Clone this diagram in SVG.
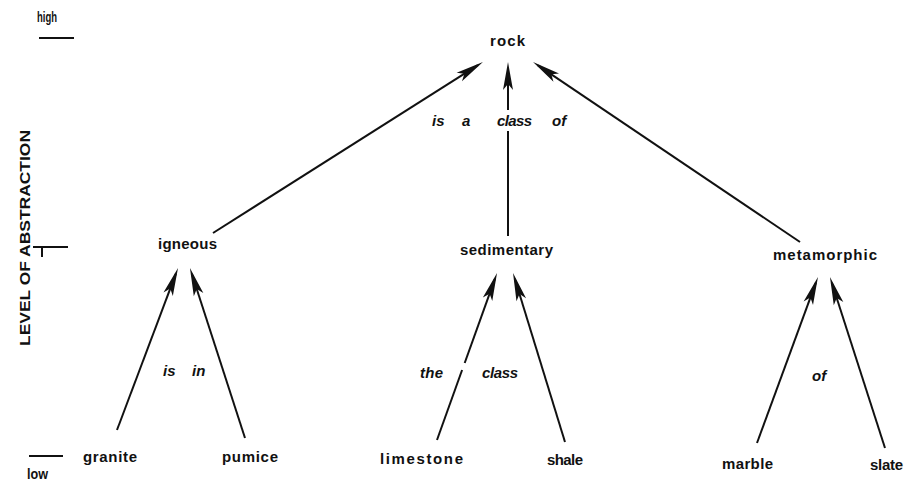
<svg xmlns="http://www.w3.org/2000/svg" width="909" height="483" viewBox="0 0 909 483">
<style>
.n{font-family:"Liberation Sans","DejaVu Sans",sans-serif;font-size:15px;font-weight:bold;fill:#111}
.l{font-family:"Liberation Sans","DejaVu Sans",sans-serif;font-size:15px;font-style:italic;font-weight:bold;fill:#111}
.c line{stroke:#111;stroke-width:2;fill:none}
.c line.a{marker-end:url(#ah)}
.t line{stroke:#111;stroke-width:2}
</style>
<defs>
<marker id="ah" markerUnits="userSpaceOnUse" viewBox="-30 -6 32 12" refX="-6" refY="0" markerWidth="32" markerHeight="12" orient="auto">
<path d="M0,0 L-28,-5 L-22,0 L-28,5 Z" fill="#111"/>
</marker>
</defs>
<rect width="909" height="483" fill="#fff"/>
<g id="axis" class="t">
<text class="n" x="37" y="22" font-size="13" textLength="20" lengthAdjust="spacingAndGlyphs">high</text>
<line x1="39" y1="38" x2="74" y2="38"/>
<line x1="33" y1="247" x2="68" y2="247"/>
<line x1="42" y1="247" x2="42" y2="257" stroke-width="1.5"/>
<line x1="29" y1="456" x2="63" y2="456"/>
<text class="n" x="27" y="479" font-size="13" textLength="21" lengthAdjust="spacingAndGlyphs">low</text>
<text class="n" transform="translate(30,238) rotate(-90)" x="0" y="0" text-anchor="middle" font-size="22" textLength="216" lengthAdjust="spacingAndGlyphs">LEVEL OF ABSTRACTION</text>
</g>
<g id="connectors" class="c">
<line class="a" x1="213" y1="233" x2="477.9" y2="65.2"/>
<line x1="508" y1="236" x2="508" y2="131"/>
<line class="a" x1="508" y1="110" x2="508" y2="68"/>
<line class="a" x1="800" y1="242" x2="538" y2="65.4"/>
<line class="a" x1="117" y1="430" x2="175.9" y2="273.6"/>
<line class="a" x1="245" y1="438" x2="191.8" y2="273.7"/>
<line x1="437" y1="440" x2="462.1" y2="370"/>
<line class="a" x1="464.7" y1="363" x2="495" y2="278.6"/>
<line class="a" x1="565" y1="442" x2="514.8" y2="278.7"/>
<line class="a" x1="757" y1="443" x2="815.9" y2="282.6"/>
<line class="a" x1="885" y1="448" x2="831.8" y2="282.7"/>
</g>
<g id="labels">
<text class="l" x="432" y="126">is</text>
<text class="l" x="462" y="126">a</text>
<text class="l" x="497" y="126" textLength="35">class</text>
<text class="l" x="552" y="126">of</text>
<text class="l" x="163" y="376">is</text>
<text class="l" x="192" y="376">in</text>
<text class="l" x="420" y="378" textLength="23">the</text>
<text class="l" x="482" y="378" textLength="36">class</text>
<text class="l" x="812" y="381">of</text>
</g>
<g id="rock"><text class="n" x="490" y="46" textLength="35">rock</text></g>
<g id="igneous"><text class="n" x="158" y="249" textLength="59">igneous</text></g>
<g id="sedimentary"><text class="n" x="460" y="255" textLength="93">sedimentary</text></g>
<g id="metamorphic"><text class="n" x="773" y="260" textLength="104">metamorphic</text></g>
<g id="granite"><text class="n" x="83" y="462" textLength="54">granite</text></g>
<g id="pumice"><text class="n" x="222" y="462" textLength="56">pumice</text></g>
<g id="limestone"><text class="n" x="380" y="464" textLength="83">limestone</text></g>
<g id="shale"><text class="n" x="547" y="465" textLength="36">shale</text></g>
<g id="marble"><text class="n" x="722" y="469" textLength="51">marble</text></g>
<g id="slate"><text class="n" x="870" y="470" textLength="33">slate</text></g>
</svg>
